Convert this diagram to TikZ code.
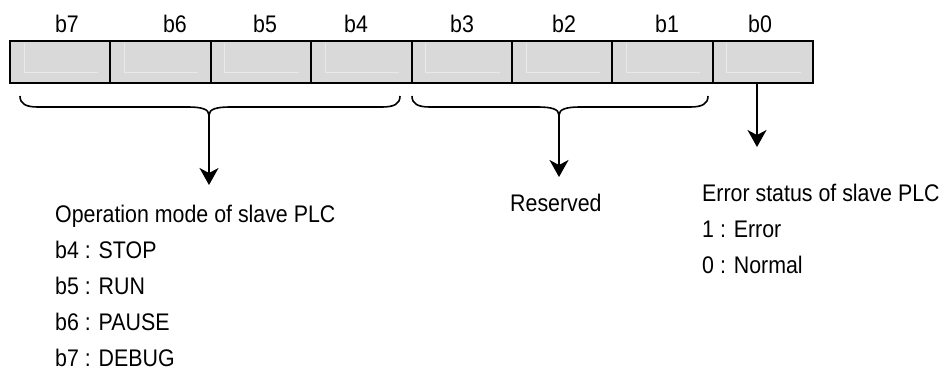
\documentclass[tikz,border=0pt]{standalone}
\usepackage{fontspec}
\setmainfont[FakeStretch=0.89]{Liberation Sans}
\usepackage{tikz}
\usetikzlibrary{positioning}
\usetikzlibrary{arrows.meta}

\definecolor{cellgray}{RGB}{217,217,217}
\definecolor{bevelgray}{RGB}{233,233,233}

\tikzset{
    bitcell/.style={draw, fill=cellgray, line width=2pt, minimum width=100.4pt, minimum height=41.7pt, inner sep=0pt, outer sep=0pt},
    bitlabel/.style={font=\fontsize{24}{28}\selectfont, anchor=base, inner sep=0pt},
    desc/.style={font=\fontsize{24}{28}\selectfont, anchor=base west, inner sep=0pt},
    bevel/.style={draw=bevelgray, line width=1pt},
    bracepath/.style={line width=1.6pt},
    pointer/.style={line width=1.6pt, -{Stealth[length=17pt, width=19pt, inset=5pt]}}
}

\begin{document}
\begin{tikzpicture}[x=1pt, y=-1pt]
    \useasboundingbox (0,0) rectangle (947,372);

    \node[bitcell] (c7) at (60.2,61.85) {};
    \foreach \i [evaluate=\i as \j using int(\i+1)] in {6,5,...,0}
        \node[bitcell, right=0pt of c\j] (c\i) {};
    \foreach \i in {0,...,7}
        \draw[bevel] ([xshift=14pt, yshift=-2pt]c\i.north west) |- ([xshift=-12.4pt, yshift=10.7pt]c\i.south east);
    \foreach \i/\x in {7/67, 6/175, 5/265, 4/356, 3/462, 2/564, 1/667, 0/760}
        \node[bitlabel] (b\i) at (\x,32) {b\i};

    \coordinate (optip) at (209,115);
    \coordinate (opend) at (209,185);
    \coordinate (restip) at (559,115);
    \coordinate (resend) at (559,177);
    \coordinate (errend) at (757,147);

    \draw[bracepath] (20,96) .. controls (20,104) and (26,107) .. (38,107) -- (188,107) .. controls (201,107) and (209,109) .. (optip) .. controls (209,109) and (217,107) .. (230,107) -- (382,107) .. controls (394,107) and (400,104) .. (400,96);
    \draw[bracepath] (412,96) .. controls (412,104) and (418,107) .. (430,107) -- (538,107) .. controls (551,107) and (559,109) .. (restip) .. controls (559,109) and (567,107) .. (580,107) -- (690,107) .. controls (702,107) and (708,104) .. (708,96);

    \draw[pointer] (optip) -- (opend);
    \draw[pointer] (restip) -- (resend);
    \draw[pointer] ([xshift=-6pt]c0.south) -- (errend);

    \foreach \t [count=\k from 0] in {Operation mode of slave PLC, b4 : STOP, b5 : RUN, b6 : PAUSE, b7 : DEBUG}
        \node[desc] (op\k) at (55,222+36*\k) {\t};
    \node[desc] (res) at (510,211) {Reserved};
    \foreach \t [count=\k from 0] in {Error status of slave PLC, 1 : Error, 0 : Normal}
        \node[desc] (err\k) at (702,201+36*\k) {\t};
\end{tikzpicture}
\end{document}
